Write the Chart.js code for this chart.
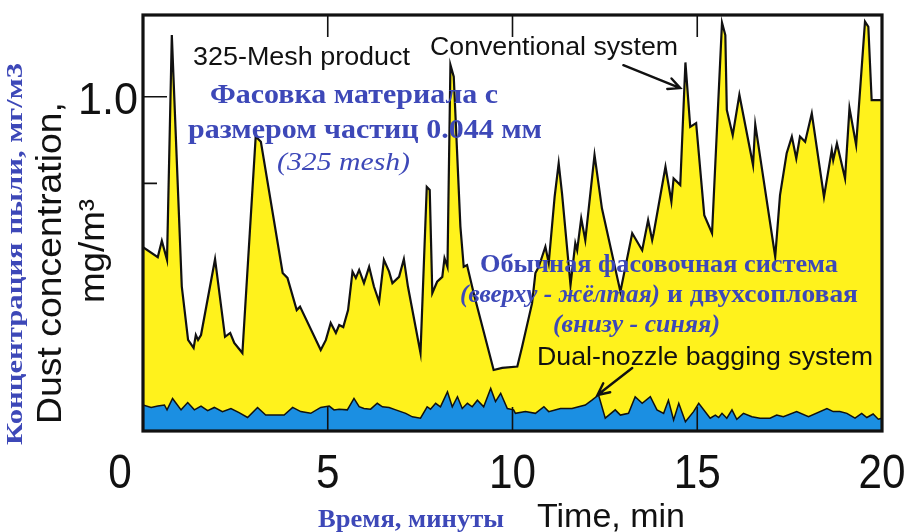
<!DOCTYPE html>
<html>
<head>
<meta charset="utf-8">
<title>Dust concentration</title>
<script src="https://cdn.jsdelivr.net/npm/chart.js@4.4.1/dist/chart.umd.min.js"></script>
<style>
  html, body { margin: 0; padding: 0; background: #ffffff; }
  canvas { display: block; }
</style>
</head>
<body>
<canvas id="chart" width="909" height="532"></canvas>
<script>
// Conventional bagging system, 325-mesh product (time in min, concentration in mg/m3)
const conventionalTime = [0, 0.40, 0.51, 0.65, 0.78, 1.05, 1.22, 1.37, 1.43, 1.49, 1.57, 1.95, 2.22, 2.36, 2.47, 2.69, 3.05, 3.19, 3.78, 3.91, 4.16, 4.25, 4.81, 4.95, 5.08, 5.22, 5.31, 5.42, 5.55, 5.67, 5.76, 5.85, 5.98, 6.12, 6.25, 6.39, 6.52, 6.66, 6.75, 6.93, 7.06, 7.17, 7.51, 7.68, 7.76, 7.83, 7.96, 8.10, 8.16, 8.24, 8.32, 8.41, 8.59, 8.68, 8.77, 8.95, 9.49, 9.72, 10.13, 10.26, 10.53, 10.62, 10.71, 10.80, 10.89, 10.98, 11.14, 11.25, 11.34, 11.57, 11.70, 11.75, 11.86, 11.97, 12.22, 12.42, 12.92, 13.24, 13.51, 13.67, 13.78, 13.82, 14.14, 14.30, 14.36, 14.54, 14.68, 14.81, 14.97, 15.19, 15.40, 15.67, 15.76, 15.80, 15.96, 16.14, 16.51, 16.57, 17.11, 17.24, 17.42, 17.56, 17.68, 17.78, 17.92, 18.10, 18.43, 18.64, 18.68, 18.78, 19.00, 19.12, 19.30, 19.54, 19.63, 19.72, 20];
const conventionalConc = [0.566, 0.537, 0.584, 0.529, 1.178, 0.452, 0.298, 0.275, 0.312, 0.298, 0.312, 0.531, 0.307, 0.318, 0.289, 0.260, 0.885, 0.870, 0.491, 0.477, 0.384, 0.394, 0.269, 0.298, 0.347, 0.318, 0.341, 0.335, 0.384, 0.495, 0.477, 0.500, 0.462, 0.509, 0.452, 0.408, 0.529, 0.495, 0.462, 0.480, 0.531, 0.452, 0.260, 0.740, 0.731, 0.433, 0.466, 0.480, 0.534, 0.509, 1.092, 1.058, 0.625, 0.509, 0.514, 0.433, 0.211, 0.217, 0.221, 0.278, 0.404, 0.491, 0.509, 0.538, 0.567, 0.520, 0.711, 0.808, 0.721, 0.456, 0.577, 0.557, 0.649, 0.586, 0.832, 0.678, 0.437, 0.606, 0.557, 0.644, 0.586, 0.606, 0.798, 0.697, 0.764, 0.745, 1.099, 0.913, 0.924, 0.658, 0.606, 1.214, 1.178, 0.962, 0.889, 1.006, 0.803, 0.920, 0.538, 0.716, 0.837, 0.885, 0.822, 0.885, 0.870, 0.952, 0.711, 0.846, 0.817, 0.865, 0.764, 0.967, 0.861, 1.217, 1.202, 0.990, 0.990];

// Dual-nozzle bagging system
const dualNozzleTime = [0, 0.22, 0.40, 0.58, 0.65, 0.80, 1.03, 1.21, 1.39, 1.57, 1.75, 1.93, 2.15, 2.38, 2.60, 2.83, 3.10, 3.32, 3.82, 4.05, 4.27, 4.54, 4.81, 5.04, 5.17, 5.31, 5.53, 5.71, 5.85, 5.98, 6.16, 6.34, 6.48, 6.66, 6.84, 7.11, 7.29, 7.51, 7.69, 7.78, 7.92, 8.05, 8.24, 8.37, 8.51, 8.64, 8.78, 8.91, 9.05, 9.22, 9.41, 9.54, 9.68, 9.86, 10.03, 10.08, 10.35, 10.62, 10.85, 10.98, 11.30, 11.61, 11.97, 12.15, 12.33, 12.51, 12.78, 12.92, 13.14, 13.32, 13.51, 13.73, 13.91, 14.09, 14.22, 14.36, 14.50, 14.68, 14.90, 15.04, 15.35, 15.49, 15.58, 15.67, 15.80, 15.94, 16.07, 16.25, 16.48, 16.70, 16.97, 17.15, 17.33, 17.69, 18.01, 18.51, 18.68, 18.86, 19.05, 19.27, 19.45, 19.59, 19.76, 19.90, 20];
const dualNozzleConc = [0.110, 0.103, 0.107, 0.110, 0.096, 0.129, 0.096, 0.117, 0.096, 0.107, 0.094, 0.103, 0.091, 0.100, 0.088, 0.074, 0.103, 0.081, 0.081, 0.103, 0.091, 0.086, 0.103, 0.107, 0.096, 0.098, 0.096, 0.129, 0.105, 0.100, 0.098, 0.115, 0.105, 0.103, 0.096, 0.086, 0.076, 0.072, 0.105, 0.098, 0.115, 0.105, 0.148, 0.105, 0.134, 0.100, 0.115, 0.105, 0.124, 0.105, 0.158, 0.120, 0.144, 0.100, 0.096, 0.086, 0.091, 0.086, 0.105, 0.091, 0.100, 0.100, 0.110, 0.124, 0.139, 0.072, 0.096, 0.081, 0.086, 0.134, 0.115, 0.134, 0.096, 0.086, 0.124, 0.067, 0.115, 0.062, 0.091, 0.115, 0.072, 0.081, 0.074, 0.086, 0.072, 0.096, 0.069, 0.086, 0.076, 0.072, 0.072, 0.081, 0.076, 0.091, 0.076, 0.100, 0.091, 0.091, 0.086, 0.072, 0.086, 0.074, 0.084, 0.069, 0.072];

// Axis ticks
const xTickValues = [0, 5, 10, 15, 20];
const xTickLabels = ['0', '5', '10', '15', '20'];
const xInnerTicks = [5, 10, 15];
const yTickValues = [0.75, 1.0];
const yTickLabels = ['', '1.0'];

const YELLOW = '#fff21c';
const BLUE = '#1b8fe2';
const RU_BLUE = '#3d48b8';
const SANS = '"Liberation Sans", Arial, sans-serif';
const SERIF = '"Liberation Serif", "Times New Roman", serif';

function toPoints(xs, ys) {
  return xs.map((x, i) => ({ x: x, y: ys[i] }));
}

// text drawn with a horizontal scale: either to a target width or by a factor
function fitText(ctx, str, x, y, font, color, width, align, factor) {
  ctx.save();
  ctx.font = font;
  ctx.fillStyle = color;
  ctx.textBaseline = 'alphabetic';
  ctx.textAlign = align || 'left';
  const w = ctx.measureText(str).width;
  const s = width ? width / w : (factor || 1);
  ctx.translate(x, y);
  ctx.scale(s, 1);
  ctx.fillText(str, 0, 0);
  ctx.restore();
}

// vertical text, reading bottom to top, centred on (cx, cy)
function verticalText(ctx, str, cx, cy, font, color, length) {
  ctx.save();
  ctx.translate(cx, cy);
  ctx.rotate(-Math.PI / 2);
  fitText(ctx, str, 0, 0, font, color, length, 'center');
  ctx.restore();
}

function arrow(ctx, x1, y1, x2, y2) {
  const a = Math.atan2(y2 - y1, x2 - x1);
  const h = 13;
  ctx.save();
  ctx.strokeStyle = '#111';
  ctx.lineWidth = 2.4;
  ctx.lineCap = 'round';
  ctx.beginPath();
  ctx.moveTo(x1, y1);
  ctx.lineTo(x2, y2);
  ctx.moveTo(x2 - h * Math.cos(a - 0.45), y2 - h * Math.sin(a - 0.45));
  ctx.lineTo(x2, y2);
  ctx.lineTo(x2 - h * Math.cos(a + 0.45), y2 - h * Math.sin(a + 0.45));
  ctx.stroke();
  ctx.restore();
}

const frameAndLabels = {
  id: 'frameAndLabels',
  afterDatasetsDraw(chart) {
    const ctx = chart.ctx;
    const area = chart.chartArea;
    const xs = chart.scales.x;
    const ys = chart.scales.y;

    ctx.save();
    // inward tick marks
    ctx.strokeStyle = '#111';
    ctx.lineWidth = 1.6;
    ctx.beginPath();
    xInnerTicks.forEach(v => {
      const px = xs.getPixelForValue(v);
      ctx.moveTo(px, area.top);
      ctx.lineTo(px, area.top + 22);
      ctx.moveTo(px, area.bottom);
      ctx.lineTo(px, area.bottom - 24);
    });
    yTickValues.forEach((v, i) => {
      const py = ys.getPixelForValue(v);
      ctx.moveTo(area.left, py);
      ctx.lineTo(area.left + (yTickLabels[i] ? 24 : 14), py);
    });
    ctx.stroke();

    // frame
    ctx.lineWidth = 3.2;
    ctx.strokeRect(area.left, area.top, area.right - area.left, area.bottom - area.top);
    ctx.restore();

    // x tick labels (slightly condensed digits)
    xTickValues.forEach((v, i) => {
      let px = xs.getPixelForValue(v);
      if (i === 0) px -= 23;
      fitText(ctx, xTickLabels[i], px, 488, '48px ' + SANS, '#111', 0, 'center', 0.88);
    });
    // y tick labels
    yTickValues.forEach((v, i) => {
      if (!yTickLabels[i]) return;
      fitText(ctx, yTickLabels[i], area.left - 5, ys.getPixelForValue(v) + 17, '45px ' + SANS, '#111', 0, 'right', 0.96);
    });

    // axis titles
    fitText(ctx, 'Time, min', 537, 527, '34px ' + SANS, '#111', 148);
    fitText(ctx, 'Время, минуты', 318, 527, 'bold 26px ' + SERIF, RU_BLUE, 186);
    verticalText(ctx, 'Dust concentration,', 61, 263, '35px ' + SANS, '#111', 322);
    verticalText(ctx, 'mg/m³', 104, 251, '35px ' + SANS, '#111', 104);
    verticalText(ctx, 'Концентрация пыли, мг/м3', 22, 254, 'bold 24px ' + SERIF, RU_BLUE, 382);

    // annotations
    fitText(ctx, '325-Mesh product', 193, 65, '26px ' + SANS, '#111', 217);
    fitText(ctx, 'Conventional system', 430, 55, '26px ' + SANS, '#111', 248);
    fitText(ctx, 'Dual-nozzle bagging system', 537, 365, '26px ' + SANS, '#111', 336);

    fitText(ctx, 'Фасовка материала с', 210, 103, 'bold 27px ' + SERIF, RU_BLUE, 288);
    fitText(ctx, 'размером частиц 0.044 мм', 188, 138, 'bold 27px ' + SERIF, RU_BLUE, 354);
    fitText(ctx, '(325 mesh)', 277, 170, 'italic 25px ' + SERIF, RU_BLUE, 133);

    fitText(ctx, 'Обычная фасовочная система', 480, 272, 'bold 25px ' + SERIF, RU_BLUE, 358);
    fitText(ctx, '(вверху - жёлтая)', 460, 302, 'bold italic 25px ' + SERIF, RU_BLUE, 200);
    fitText(ctx, 'и двухсопловая', 667, 302, 'bold 25px ' + SERIF, RU_BLUE, 191);
    fitText(ctx, '(внизу - синяя)', 553, 332, 'bold italic 25px ' + SERIF, RU_BLUE, 167);

    // arrows pointing at the two traces
    arrow(ctx, xs.getPixelForValue(13.0), ys.getPixelForValue(1.091),
               xs.getPixelForValue(14.54), ys.getPixelForValue(1.025));
    arrow(ctx, xs.getPixelForValue(13.24), ys.getPixelForValue(0.217),
               xs.getPixelForValue(12.30), ys.getPixelForValue(0.139));
  }
};

new Chart(document.getElementById('chart'), {
  type: 'line',
  data: {
    datasets: [
      {
        label: 'Dual-nozzle bagging system',
        data: toPoints(dualNozzleTime, dualNozzleConc),
        borderColor: '#111',
        borderWidth: 1.5,
        backgroundColor: BLUE,
        fill: 'start',
        pointRadius: 0,
        tension: 0
      },
      {
        label: 'Conventional system',
        data: toPoints(conventionalTime, conventionalConc),
        borderColor: '#111',
        borderWidth: 2.2,
        backgroundColor: YELLOW,
        fill: 'start',
        pointRadius: 0,
        tension: 0
      }
    ]
  },
  options: {
    responsive: false,
    animation: false,
    devicePixelRatio: 1,
    layout: { padding: { left: 143, top: 15, right: 27, bottom: 101 } },
    plugins: {
      legend: { display: false },
      tooltip: { enabled: false }
    },
    scales: {
      x: { type: 'linear', min: 0, max: 20, display: false },
      y: { type: 'linear', min: 0.035, max: 1.236, display: false }
    }
  },
  plugins: [frameAndLabels]
});
</script>
</body>
</html>
